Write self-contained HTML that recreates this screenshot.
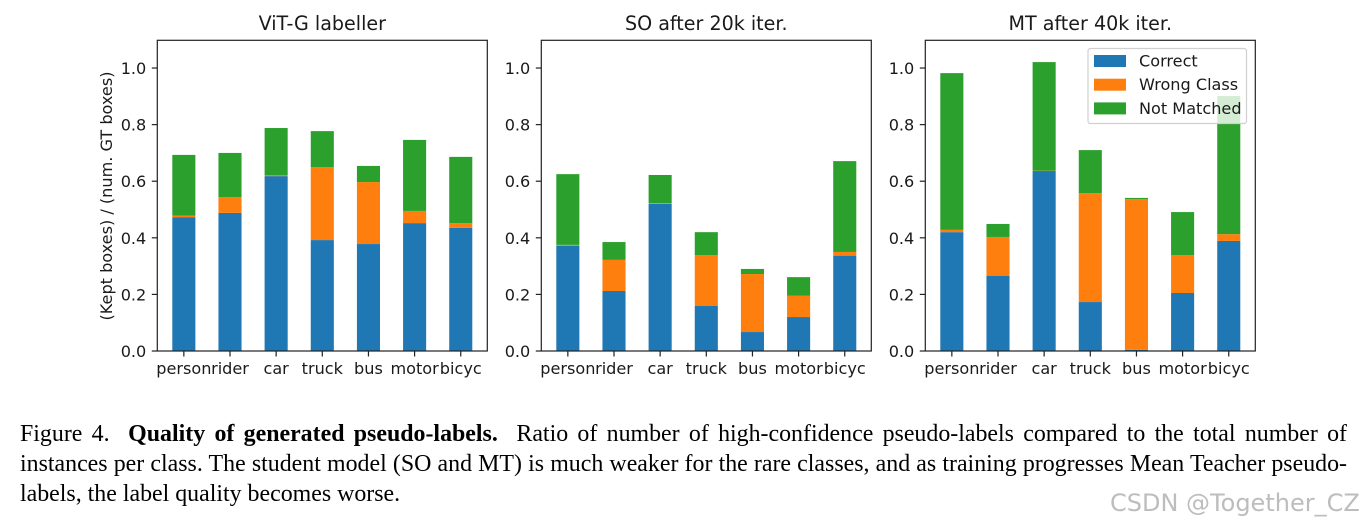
<!DOCTYPE html>
<html lang="en">
<head>
<meta charset="utf-8">
<title>Quality of generated pseudo-labels</title>
<style>
html,body{margin:0;padding:0;background:#fff;width:1364px;height:526px;overflow:hidden}
#stage{position:relative;width:1364px;height:526px}
#charts{position:absolute;left:0;top:0}
#charts text{font-family:"DejaVu Sans",sans-serif;fill:#1a1a1a}
.cap{position:absolute;left:20px;width:1327px;font-family:"Liberation Serif",serif;font-size:23.9px;line-height:30px;color:#000;white-space:nowrap;text-align:justify;text-align-last:justify}
.cap.last{text-align:left;text-align-last:left}
#wm{position:absolute;left:1110px;top:488px;font-family:"DejaVu Sans","Liberation Sans",sans-serif;font-size:24px;line-height:30px;color:#bdbdbd;white-space:nowrap}
</style>
</head>
<body>
<div id="stage">
<svg id="charts" width="1364" height="526" viewBox="0 0 1364 526"></svg>
<div class="cap" style="top:419px">Figure 4. &nbsp;<b>Quality of generated pseudo-labels.</b> &nbsp;Ratio of number of high-confidence pseudo-labels compared to the total number of</div>
<div class="cap" style="top:449px">instances per class. The student model (SO and MT) is much weaker for the rare classes, and as training progresses Mean Teacher pseudo-</div>
<div class="cap last" style="top:479px">labels, the label quality becomes worse.</div>
<div id="wm">CSDN @Together_CZ</div>
</div>
<script>
const categories = ['person','rider','car','truck','bus','motor','bicyc'];
const yTicks = [0, 0.2, 0.4, 0.6, 0.8, 1.0];
const seriesNames = ['Correct','Wrong Class','Not Matched'];
const panelTitles = ['ViT-G labeller','SO after 20k iter.','MT after 40k iter.'];
const vitCorrect = [0.473,0.488,0.618,0.392,0.378,0.452,0.435];
const vitWrong = [0.005,0.056,0.004,0.258,0.219,0.043,0.017];
const vitNotMatched = [0.215,0.156,0.166,0.127,0.057,0.251,0.234];
const soCorrect = [0.372,0.212,0.520,0.159,0.067,0.120,0.337];
const soWrong = [0.003,0.110,0.003,0.180,0.205,0.075,0.013];
const soNotMatched = [0.250,0.063,0.099,0.081,0.018,0.066,0.321];
const mtCorrect = [0.420,0.265,0.636,0.173,0.004,0.205,0.389];
const mtWrong = [0.008,0.138,0.001,0.385,0.533,0.134,0.024];
const mtNotMatched = [0.554,0.046,0.384,0.152,0.004,0.152,0.488];

const NS = 'http://www.w3.org/2000/svg';
const svg = document.getElementById('charts');
const colors = ['#1f77b4','#ff7f0e','#2ca02c'];
const panelLefts = [157.3, 541.3, 925.3];
const panelWidth = 330;
const plotTop = 40.3;
const plotBottom = 351;
const yMax = 1.098;
const pxPerUnit = (plotBottom - plotTop) / yMax;
const xUnit = panelWidth / 7.15;

function yScale(v){ return plotBottom - v * pxPerUnit; }
function xScale(left, i){ return left + (i + 0.575) * xUnit; }
function make(tag, attrs, parent){
  const el = document.createElementNS(NS, tag);
  for (const k in attrs) el.setAttribute(k, attrs[k]);
  (parent || svg).appendChild(el);
  return el;
}

function drawPanel(p, series){
  const left = panelLefts[p];
  const g = make('g', {});
  
  

  categories.forEach(function(cat, i){
    let base = 0;
    series.forEach(function(vals, s){
      const x = xScale(left, i) - 0.25 * xUnit;
      const top = yScale(base + vals[i]);
      const r = make('rect', {x: x, y: top, width: 0.5 * xUnit, height: yScale(base) - top, fill: colors[s]}, g);
      
      
      base += vals[i];
    });
    const cx = xScale(left, i);
    const tick = make('line', {x1: cx, x2: cx, y1: plotBottom, y2: plotBottom + 5.5, stroke: '#222', 'stroke-width': 1.2}, g);
    
    
    const label = make('text', {x: cx, y: 374, 'text-anchor': 'middle', 'font-size': 16.1}, g);
    label.textContent = cat;
    
    
  });

  yTicks.forEach(function(t){
    const y = yScale(t);
    const tick = make('line', {x1: left - 5.5, x2: left, y1: y, y2: y, stroke: '#222', 'stroke-width': 1.2}, g);
    
    
    const label = make('text', {x: left - 11, y: y + 6, 'text-anchor': 'end', 'font-size': 16.1}, g);
    label.textContent = t.toFixed(1);
    
    
  });

  const frame = make('rect', {x: left, y: plotTop, width: panelWidth, height: plotBottom - plotTop, fill: 'none', stroke: '#222', 'stroke-width': 1.2}, g);
  
  

  const title = make('text', {x: left + panelWidth / 2, y: 30, 'text-anchor': 'middle', 'font-size': 19.1}, g);
  title.textContent = panelTitles[p];
  
  
}

drawPanel(0, [vitCorrect, vitWrong, vitNotMatched]);
drawPanel(1, [soCorrect, soWrong, soNotMatched]);
drawPanel(2, [mtCorrect, mtWrong, mtNotMatched]);

const yLabel = make('text', {transform: 'translate(112,196) rotate(-90)', 'text-anchor': 'middle', 'font-size': 16.1});
yLabel.textContent = '(Kept boxes) / (num. GT boxes)';



const legend = make('g', {});


const legendBox = make('rect', {x: 1088, y: 48.5, width: 158.5, height: 75, rx: 2.5, fill: 'rgba(255,255,255,0.8)', stroke: '#d0d0d0', 'stroke-width': 1.2}, legend);


seriesNames.forEach(function(name, i){
  const y = 55 + i * 23.7;
  const sw = make('rect', {x: 1094, y: y, width: 32, height: 12, fill: colors[i]}, legend);
  
  
  const tx = make('text', {x: 1139, y: y + 11.5, 'font-size': 16.1}, legend);
  tx.textContent = name;
  
  
});
</script>
</body>
</html>
